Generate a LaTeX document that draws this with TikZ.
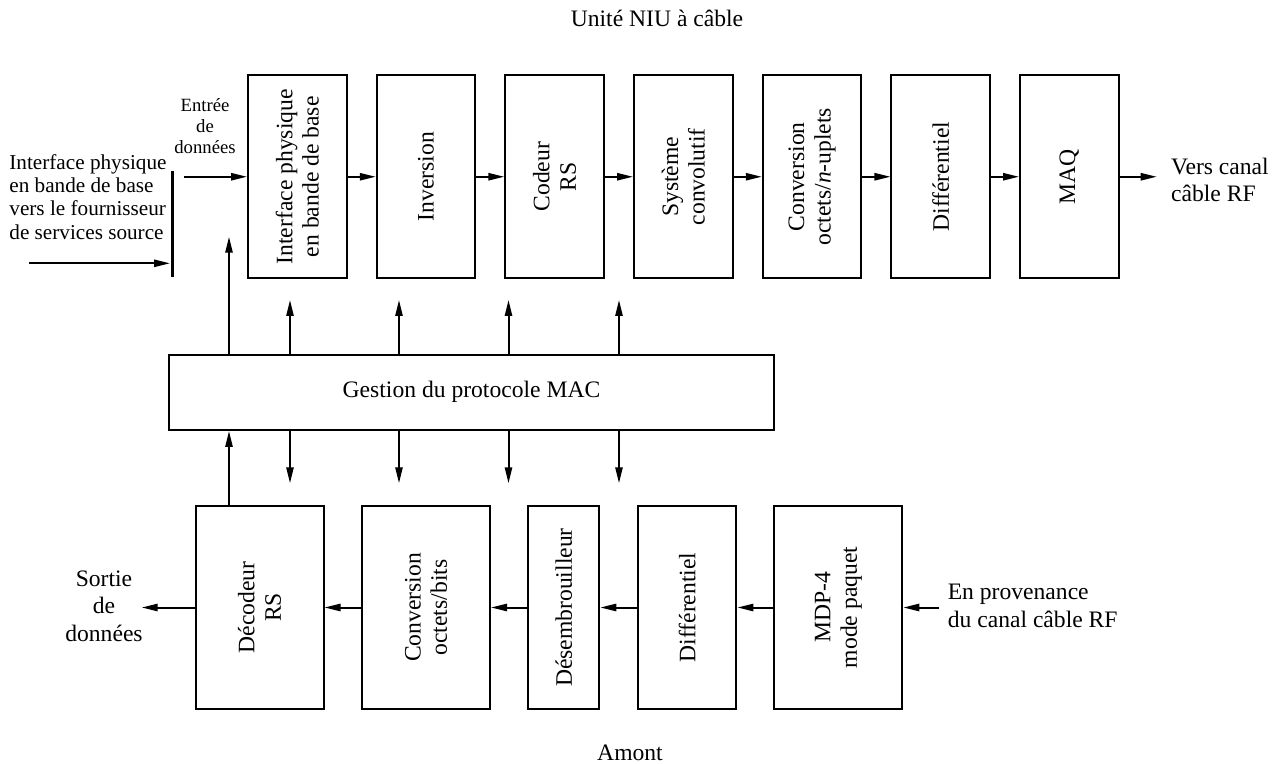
\documentclass[tikz,border=0pt]{standalone}
\usepackage{fontspec}
\setmainfont{Liberation Serif}
\usetikzlibrary{arrows.meta}
\begin{document}
\begin{tikzpicture}[x=0.5pt,y=-0.5pt,
  blk/.style={draw, line width=1pt, inner sep=0pt},
  topblk/.style={blk, minimum width=49.25pt, minimum height=101.75pt},
  vtext/.style={rotate=90, align=center, inner sep=0pt,
    font=\fontsize{11.8pt}{13.2pt}\selectfont},
  txt/.style={align=center, inner sep=0pt,
    font=\fontsize{11.8pt}{13.8pt}\selectfont},
  smalltxt/.style={align=center, inner sep=0pt,
    font=\fontsize{9.35pt}{10.4pt}\selectfont},
  sidetxt/.style={align=left, inner sep=0pt,
    font=\fontsize{10.6pt}{11.65pt}\selectfont},
  arr/.style={line width=1pt, -{Triangle[length=8pt,width=3.6pt]}},
  bar/.style={line width=1.6pt}]
\useasboundingbox (0,0) rectangle (1284,764);

% headings
\node[txt] (title) at (657,18) {Unité NIU à câble};
\node[txt] (amont) at (630,753) {Amont};

% downstream chain
\node[topblk] (t1) at (297.3,176.75) {};
\node[topblk] (t2) at (426.0,176.75) {};
\node[topblk] (t3) at (554.6,176.75) {};
\node[topblk] (t4) at (683.3,176.75) {};
\node[topblk] (t5) at (812.0,176.75) {};
\node[topblk] (t6) at (940.7,176.75) {};
\node[topblk] (t7) at (1069.3,176.75) {};
\node[vtext] (l1) at (t1) {Interface physique\\en bande de base};
\node[vtext] (l2) at (t2) {Inversion};
\node[vtext] (l3) at (t3) {Codeur\\RS};
\node[vtext] (l4) at (t4) {Système\\convolutif};
\node[vtext] (l5) at (t5) {Conversion\\octets/\textit{n}-uplets};
\node[vtext] (l6) at (t6) {Différentiel};
\node[vtext] (l7) at (t7) {MAQ};

\foreach \a/\b in {t1/t2,t2/t3,t3/t4,t4/t5,t5/t6,t6/t7}
  \draw[arr] (\a.east) -- (\b.west);

% source side
\node[sidetxt, anchor=west] (src) at (9,196.7)
  {Interface physique\\en bande de base\\vers le fournisseur\\de services source};
\coordinate (barT) at (172.7,170.7);
\coordinate (barB) at (172.7,277.3);
\draw[bar] (barT) -- (barB);
\coordinate (srcS) at (29,263.3);
\coordinate (srcE) at (170,263.3);
\draw[arr] (srcS) -- (srcE);
\node[smalltxt] (entree) at (205,126) {Entrée\\de\\données};
\coordinate (entS) at (184,176.75);
\draw[arr] (entS) -- (t1.west);

% output to RF channel
\coordinate (rfE) at (1156.7,176.75);
\draw[arr] (t7.east) -- (rfE);
\node[txt, align=left, anchor=west] (rf) at (1170.7,180) {Vers canal\\câble RF};

% MAC management
\node[blk, minimum width=302.5pt, minimum height=37.65pt] (mac) at (471.5,392.3) {};
\node[txt] (macl) at (mac) {Gestion du protocole MAC};

\coordinate (upL) at (229,236.7);
\draw[arr] (mac.north -| upL) -- (upL);
\foreach \x [count=\i] in {290,399,508.5,619} {
  \coordinate (u\i) at (\x,300);
  \coordinate (d\i) at (\x,483.3);
  \draw[arr] (mac.north -| u\i) -- (u\i);
  \draw[arr] (mac.south -| d\i) -- (d\i);
}

% upstream chain
\node[blk, minimum width=64pt, minimum height=101.8pt] (dec) at (259.5,607.5) {};
\node[blk, minimum width=64pt, minimum height=101.8pt] (cob) at (426,607.5) {};
\node[blk, minimum width=35.5pt, minimum height=101.8pt] (des) at (563.8,607.5) {};
\node[blk, minimum width=49.15pt, minimum height=101.8pt] (dif) at (687.2,607.5) {};
\node[blk, minimum width=64pt, minimum height=101.8pt] (mdp) at (838.3,607.5) {};
\node[vtext] (bl1) at (dec) {Décodeur\\RS};
\node[vtext] (bl2) at (cob) {Conversion\\octets/bits};
\node[vtext] (bl3) at (des) {Désembrouilleur};
\node[vtext] (bl4) at (dif) {Différentiel};
\node[vtext] (bl5) at (mdp) {MDP-4\\mode paquet};

\foreach \a/\b in {mdp/dif,dif/des,des/cob,cob/dec}
  \draw[arr] (\a.west) -- (\b.east);

\draw[arr] (dec.north -| upL) -- (mac.south -| upL);

\coordinate (outE) at (141.7,607.5);
\draw[arr] (dec.west) -- (outE);
\node[txt] (sortie) at (104,606) {Sortie\\de\\données};

\coordinate (inS) at (939,607.5);
\draw[arr] (inS) -- (mdp.east);
\node[txt, align=left, anchor=west] (prov) at (947.4,606) {En provenance\\du canal câble RF};
\end{tikzpicture}
\end{document}
